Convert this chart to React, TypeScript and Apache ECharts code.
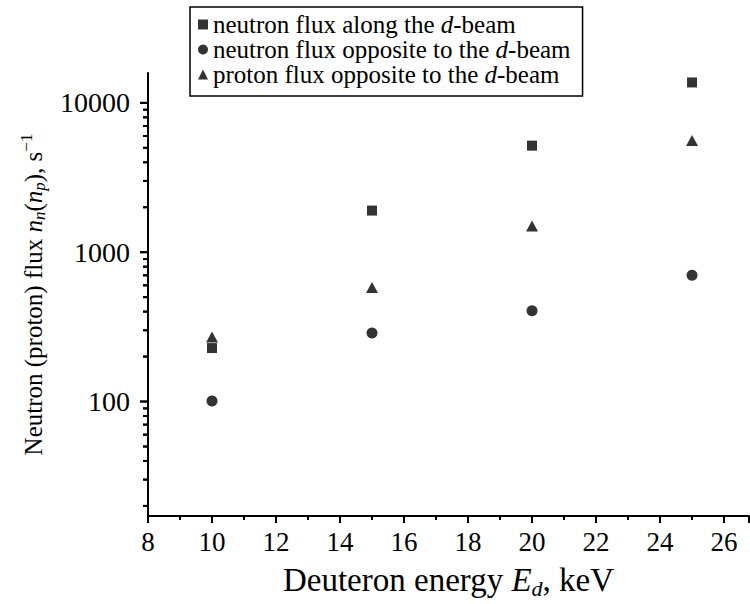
import { useEffect, useRef, useState } from 'react';
import * as echarts from 'echarts';

const ENERGY = [10, 15, 20, 25];
const NEUTRON_ALONG = [228, 1900, 5170, 13700];
const NEUTRON_OPPOSITE = [101, 288, 405, 700];
const PROTON_OPPOSITE = [270, 580, 1500, 5600];

const SERIES_NAMES = [
  'neutron flux along the d-beam',
  'neutron flux opposite to the d-beam',
  'proton flux opposite to the d-beam',
];
const LEGEND_LABELS: Record<string, string> = {
  'neutron flux along the d-beam': '{r|neutron flux along the }{it|d}{r|-beam}',
  'neutron flux opposite to the d-beam': '{r|neutron flux opposite to the }{it|d}{r|-beam}',
  'proton flux opposite to the d-beam': '{r|proton flux opposite to the }{it|d}{r|-beam}',
};

const X_MIN = 8;
const X_MAX = 26.78;
const Y_MIN = 17.12;
const Y_MAX = 15849;
const Y_MAJOR_TICKS = [100, 1000, 10000];
const Y_MINOR_TICKS = [
  20, 30, 40, 50, 60, 70, 80, 90,
  200, 300, 400, 500, 600, 700, 800, 900,
  2000, 3000, 4000, 5000, 6000, 7000, 8000, 9000,
];

const FONT = 'Liberation Serif';
const CSS = `#root svg text, #root svg tspan { font-family: "Liberation Serif", "Times New Roman", serif !important; }`;

export default function App() {
  const ref = useRef<HTMLDivElement>(null);
  const [dbg, setDbg] = useState('');
  useEffect(() => {
    if (!ref.current) return;
    const chart = echarts.init(ref.current, undefined, { renderer: 'svg' });
    const zip = (ys: number[]) => ENERGY.map((x, i) => [x, ys[i]]);
    const tickData = [
      ...Y_MAJOR_TICKS.map((v) => [X_MIN, v, 1]),
      ...Y_MINOR_TICKS.map((v) => [X_MIN, v, 0]),
    ];
    const base = { fontFamily: FONT, color: '#000' };
    const xRich = {
      r: { ...base, fontSize: 33, lineHeight: 38 },
      it: { ...base, fontSize: 33, fontStyle: 'italic', lineHeight: 38 },
      sub: { ...base, fontSize: 22, fontStyle: 'italic', lineHeight: 18, verticalAlign: 'bottom' },
    };
    const yRich = {
      r: { ...base, fontSize: 25, lineHeight: 30 },
      it: { ...base, fontSize: 25, fontStyle: 'italic', lineHeight: 30 },
      sub: { ...base, fontSize: 17, fontStyle: 'italic', lineHeight: 14, verticalAlign: 'bottom' },
      sup: { ...base, fontSize: 17, lineHeight: 14, verticalAlign: 'top' },
    };
    let msg = '';
    chart.setOption({
      animation: false,
      backgroundColor: '#fff',
      grid: { left: 148, right: 1, top: 73, bottom: 86, containLabel: false },
      legend: {
        orient: 'vertical',
        left: 190,
        top: 7,
        padding: [5, 12, 9, 8],
        itemGap: 0,
        itemWidth: 10,
        itemHeight: 10,
        borderColor: '#000',
        borderWidth: 1.5,
        data: SERIES_NAMES,
        formatter: (name: string) => LEGEND_LABELS[name],
        textStyle: {
          ...base,
          fontSize: 25,
          rich: {
            r: { ...base, fontSize: 25, lineHeight: 26 },
            it: { ...base, fontSize: 25, fontStyle: 'italic', lineHeight: 26 },
          },
        },
      },
      xAxis: {
        type: 'value',
        min: X_MIN,
        max: X_MAX,
        interval: 2,
        name: '{r|Deuteron energy }{it|E}{sub|d}{r|, keV}',
        nameLocation: 'middle',
        nameGap: 45,
        nameTextStyle: { ...base, fontSize: 33, rich: xRich },
        axisLine: { show: true, lineStyle: { color: '#000', width: 2 } },
        axisTick: { show: true, length: 7, lineStyle: { color: '#000', width: 2 } },
        minorTick: { show: true, splitNumber: 2, length: 4, lineStyle: { color: '#000', width: 2 } },
        axisLabel: { ...base, fontSize: 27, margin: 12, showMaxLabel: false },
        splitLine: { show: false },
      },
      yAxis: {
        type: 'log',
        logBase: 10,
        min: Y_MIN,
        max: Y_MAX,
        name: '{r|Neutron (proton) flux }{it|n}{sub|n}{r|(}{it|n}{sub|p}{r|), s}{sup|−1}',
        nameLocation: 'middle',
        nameGap: 100,
        nameRotate: 90,
        nameTextStyle: { ...base, fontSize: 25, rich: yRich },
        axisLine: { show: true, lineStyle: { color: '#000', width: 2 } },
        axisTick: { show: false },
        minorTick: { show: false },
        axisLabel: {
          ...base,
          fontSize: 28,
          margin: 18,
          showMinLabel: false,
          showMaxLabel: false,
          formatter: (v: number) => {
            const r = Math.round(v);
            return Y_MAJOR_TICKS.includes(r) ? String(r) : '';
          },
        },
        splitLine: { show: false },
      },
      series: [
        { name: SERIES_NAMES[0], type: 'scatter', symbol: 'rect', symbolSize: 10, itemStyle: { color: '#000' }, data: zip(NEUTRON_ALONG) },
        { name: SERIES_NAMES[1], type: 'scatter', symbol: 'circle', symbolSize: 11, itemStyle: { color: '#000' }, data: zip(NEUTRON_OPPOSITE) },
        { name: SERIES_NAMES[2], type: 'scatter', symbol: 'triangle', symbolSize: [12, 11], itemStyle: { color: '#000' }, data: zip(PROTON_OPPOSITE) },
        {
          type: 'custom',
          clip: false,
          data: tickData,
          renderItem: (_params: any, api: any) => {
            const p = api.coord([api.value(0), api.value(1)]);
            msg += 'c' + Math.round(p[0]) + ',' + Math.round(p[1]) + ' ';
            const len = api.value(2) ? 8 : 5;
            return {
              type: 'line',
              shape: { x1: p[0] - len, y1: p[1], x2: p[0], y2: p[1] },
              style: { stroke: '#000', lineWidth: 2 },
            };
          },
        },
      ],
    });
    const tickLines = tickData.map((d) => {
      const p = chart.convertToPixel({ gridIndex: 0 }, [d[0], d[1]]) as number[];
      const len = d[2] ? 8 : 5;
      return {
        type: 'line',
        silent: true,
        z: 100,
        shape: { x1: p[0] - len, y1: p[1], x2: p[0], y2: p[1] },
        style: { stroke: '#000', lineWidth: 2 },
      };
    });
    chart.setOption({ graphic: { elements: tickLines } });
    const texts = ref.current.querySelectorAll('text');
    msg += ' n' + texts.length;
    setDbg(msg);
    return () => chart.dispose();
  }, []);
  return (
    <div style={{ position: 'fixed', left: 0, top: 0 }}>
      <style>{CSS}</style>
      <div ref={ref} style={{ width: 750, height: 604 }} />
      <pre style={{ position: 'absolute', left: -5000, top: 0, width: 10, fontSize: 1, margin: 0, color: '#fff' }}>{dbg}</pre>
    </div>
  );
}
